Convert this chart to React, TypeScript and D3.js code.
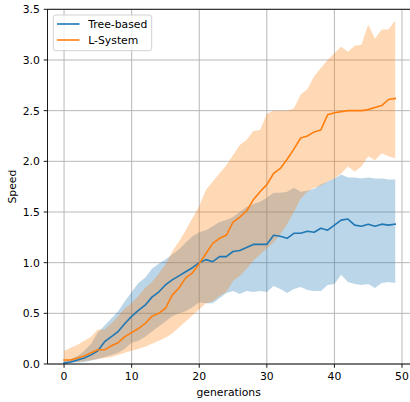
import React from "react";
import * as d3 from "d3";

const generations = d3.range(0, 50);

const treeMean = [0.01,0.02,0.04,0.06,0.09,0.13,0.22,0.27,0.32,0.40,0.47,0.53,0.58,0.66,0.71,0.78,0.83,0.87,0.91,0.95,1.0,1.03,1.01,1.06,1.06,1.11,1.12,1.15,1.18,1.18,1.18,1.27,1.26,1.24,1.29,1.29,1.31,1.30,1.34,1.32,1.37,1.42,1.43,1.37,1.36,1.38,1.36,1.38,1.37,1.38];
const treeLower = [0.0,0.01,0.015,0.02,0.035,0.05,0.07,0.09,0.11,0.15,0.21,0.23,0.27,0.32,0.37,0.42,0.47,0.5,0.52,0.56,0.61,0.6,0.6,0.65,0.7,0.72,0.69,0.72,0.71,0.72,0.71,0.77,0.74,0.70,0.74,0.76,0.73,0.72,0.72,0.78,0.79,0.88,0.81,0.79,0.78,0.79,0.75,0.8,0.81,0.80];
const treeUpper = [0.03,0.05,0.08,0.13,0.2,0.31,0.38,0.45,0.52,0.62,0.71,0.8,0.85,0.94,0.99,1.03,1.08,1.13,1.2,1.26,1.30,1.32,1.36,1.40,1.42,1.45,1.50,1.55,1.58,1.60,1.64,1.69,1.69,1.70,1.74,1.70,1.71,1.73,1.77,1.80,1.83,1.87,1.84,1.84,1.83,1.84,1.83,1.83,1.82,1.82];

const lsysMean = [0.04,0.04,0.06,0.08,0.11,0.14,0.14,0.18,0.21,0.27,0.31,0.35,0.4,0.47,0.5,0.55,0.68,0.75,0.85,0.9,0.99,1.09,1.19,1.24,1.27,1.40,1.45,1.51,1.62,1.70,1.77,1.88,1.93,2.02,2.12,2.23,2.25,2.29,2.31,2.46,2.48,2.49,2.5,2.5,2.5,2.51,2.53,2.55,2.61,2.62];
const lsysLower = [0.02,0.02,0.02,0.03,0.04,0.05,0.06,0.07,0.09,0.11,0.13,0.15,0.17,0.2,0.23,0.26,0.3,0.36,0.42,0.48,0.54,0.6,0.62,0.67,0.71,0.82,0.87,0.94,1.02,1.08,1.14,1.2,1.28,1.38,1.5,1.63,1.7,1.74,1.76,1.8,1.83,1.88,1.95,1.9,1.95,2.05,2.01,2.08,2.05,2.03];
const lsysUpper = [0.13,0.16,0.19,0.23,0.27,0.34,0.34,0.4,0.47,0.55,0.6,0.67,0.75,0.81,0.89,0.98,1.11,1.21,1.32,1.44,1.56,1.72,1.8,1.88,1.96,2.06,2.16,2.21,2.30,2.31,2.47,2.5,2.5,2.5,2.52,2.66,2.71,2.84,2.92,3.0,3.07,3.13,3.08,3.14,3.15,3.35,3.21,3.3,3.3,3.39];

const xTicks = [0, 10, 20, 30, 40, 50];
const yTicks = [0.0, 0.5, 1.0, 1.5, 2.0, 2.5, 3.0, 3.5];

const series = [
  { name: "Tree-based", color: "#1f77b4", mean: treeMean, lower: treeLower, upper: treeUpper },
  { name: "L-System", color: "#ff7f0e", mean: lsysMean, lower: lsysLower, upper: lsysUpper },
];

export default function App() {
  const left = 47.5, right = 411.8, top = 9.3, bottom = 364;
  const x = d3.scaleLinear().domain([-2.45, 51.45]).range([left, right]);
  const y = d3.scaleLinear().domain([0, 3.5]).range([bottom, top]);
  const fs = 10.8;
  const font = "DejaVu Sans, sans-serif";

  const line = (vals: number[]) =>
    d3.line<number>().x((_, i) => x(generations[i])).y((d) => y(d))(vals) || "";
  const area = (lo: number[], hi: number[]) =>
    d3
      .area<number>()
      .x((_, i) => x(generations[i]))
      .y0((_, i) => y(lo[i]))
      .y1((_, i) => y(hi[i]))(generations.map((g) => g)) || "";

  return (
    <svg width={410} height={402} style={{ position: "absolute", left: 0, top: 0, background: "#fff" }}>
      <defs>
        <clipPath id="plot">
          <rect x={left} y={top} width={right - left} height={bottom - top} />
        </clipPath>
      </defs>
      {/* grid */}
      <g stroke="#b0b0b0" strokeWidth={0.9}>
        {xTicks.map((t) => (
          <line key={"gx" + t} x1={x(t)} x2={x(t)} y1={top} y2={bottom} />
        ))}
        {yTicks.map((t) => (
          <line key={"gy" + t} x1={left} x2={right} y1={y(t)} y2={y(t)} />
        ))}
      </g>
      <g clipPath="url(#plot)">
        {series.map((s) => (
          <path key={"a" + s.name} d={area(s.lower, s.upper)} fill={s.color} fillOpacity={0.3} stroke="none" />
        ))}
        {series.map((s) => (
          <path key={"l" + s.name} d={line(s.mean)} fill="none" stroke={s.color} strokeWidth={1.6} strokeLinejoin="round" strokeLinecap="square" />
        ))}
      </g>
      {/* spines */}
      <g stroke="#000" strokeWidth={0.9}>
        <line x1={left} x2={left} y1={top} y2={bottom} />
        <line x1={left} x2={right} y1={bottom} y2={bottom} />
        <line x1={left} x2={right} y1={top} y2={top} />
        <line x1={right} x2={right} y1={top} y2={bottom} />
      </g>
      {/* x ticks */}
      <g fontFamily={font} fontSize={fs} fill="#000">
        {xTicks.map((t) => (
          <g key={"xt" + t}>
            <line x1={x(t)} x2={x(t)} y1={bottom} y2={bottom + 3.8} stroke="#000" strokeWidth={0.9} />
            <text x={x(t)} y={bottom + 7.6} textAnchor="middle" dy="0.76em">
              {String(t)}
            </text>
          </g>
        ))}
        {yTicks.map((t) => (
          <g key={"yt" + t}>
            <line x1={left - 3.8} x2={left} y1={y(t)} y2={y(t)} stroke="#000" strokeWidth={0.9} />
            <text x={left - 7.6} y={y(t)} textAnchor="end" dy="0.36em">
              {t.toFixed(1)}
            </text>
          </g>
        ))}
        <text x={(left + right) / 2 - 1} y={392} textAnchor="middle" dy="0.36em">
          generations
        </text>
        <text transform={`translate(12.5, ${(top + bottom) / 2}) rotate(-90)`} textAnchor="middle" dy="0.36em">
          Speed
        </text>
      </g>
      {/* legend */}
      <g fontFamily={font} fontSize={fs}>
        <rect x={53.3} y={15} width={98.4} height={35.7} rx={2.5} fill="#fff" fillOpacity={0.8} stroke="#cccccc" strokeWidth={0.9} />
        {series.map((s, i) => (
          <g key={"lg" + s.name}>
            <line x1={57} x2={79.5} y1={24 + i * 16} y2={24 + i * 16} stroke={s.color} strokeWidth={1.6} />
            <text x={88.3} y={24 + i * 16} dy="0.36em" fill="#000">
              {s.name}
            </text>
          </g>
        ))}
      </g>
    </svg>
  );
}
